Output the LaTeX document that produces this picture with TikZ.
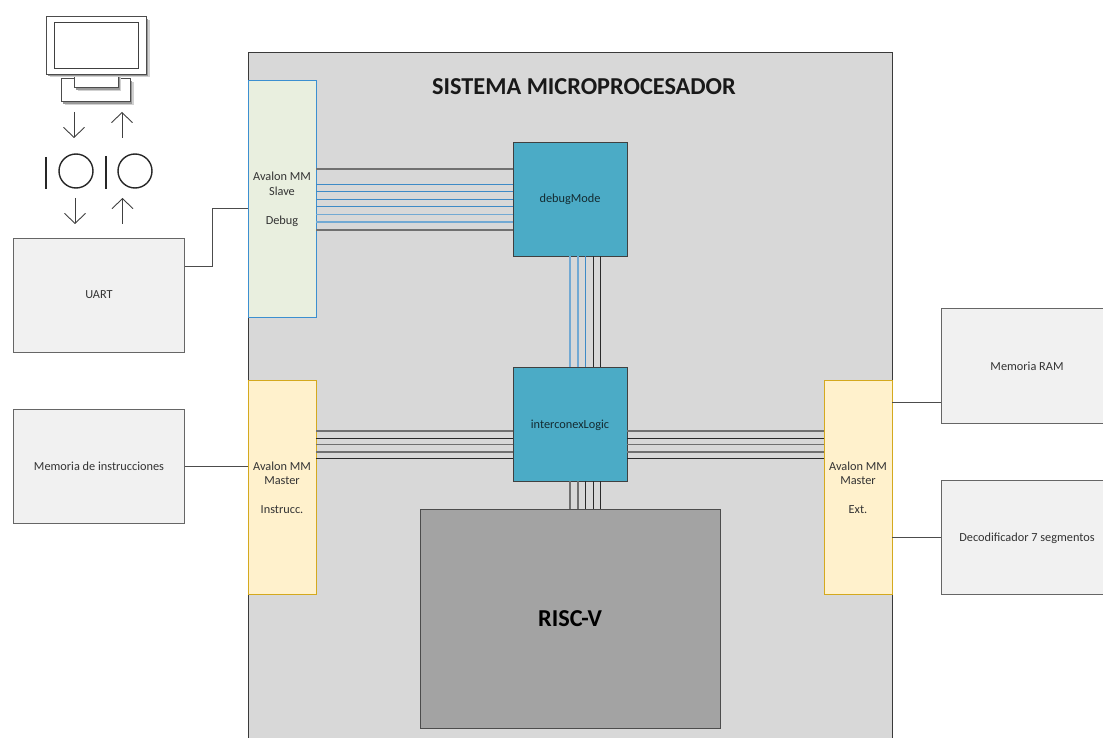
\documentclass[tikz,border=0pt]{standalone}
\usepackage{fontspec}
\setmainfont{Carlito}
\usetikzlibrary{arrows.meta,calc}
\definecolor{sysgray}{HTML}{D8D8D8}
\definecolor{sysedge}{HTML}{3A3A3A}
\definecolor{slavefill}{HTML}{E9EFDF}
\definecolor{slaveedge}{HTML}{3C8FD0}
\definecolor{masterfill}{HTML}{FFF1CC}
\definecolor{masteredge}{HTML}{D4A91E}
\definecolor{tealfill}{HTML}{4BABC6}
\definecolor{riscfill}{HTML}{A3A3A3}
\definecolor{extfill}{HTML}{F1F1F1}
\definecolor{busblue}{HTML}{3E8AC6}
\definecolor{buslight}{HTML}{72A9D3}
\definecolor{busgray}{HTML}{707070}
\definecolor{busdark}{HTML}{2A2A2A}
\newcommand{\lift}{\rule{0pt}{10.4pt}}
\tikzset{
  box/.style={draw,rectangle,inner sep=0pt,align=center,line width=0.9pt,anchor=center},
  sysbox/.style={box,fill=sysgray,draw=sysedge},
  slavebox/.style={box,fill=slavefill,draw=slaveedge,text=black!80,font=\fontsize{12.3}{14.5}\selectfont},
  masterbox/.style={box,fill=masterfill,draw=masteredge,text=black!80,font=\fontsize{12.3}{14.5}\selectfont},
  logicbox/.style={box,fill=tealfill,draw=black!75,text=black!75!tealfill,font=\fontsize{12.3}{14.5}\selectfont},
  riscbox/.style={box,fill=riscfill,draw=black!70,font=\bfseries\fontsize{24.3}{28}\selectfont},
  extbox/.style={box,fill=extfill,draw=black!60,text=black!80,font=\fontsize{12.3}{14.5}\selectfont},
  screenpart/.style={box,fill=white,draw=black!70,line width=1pt,
    preaction={draw=none,fill=black!18,transform canvas={shift={(3pt,-3pt)}}},
    preaction={draw=none,fill=black!40,transform canvas={shift={(1.8pt,-1.8pt)}}}},
  titletext/.style={font=\bfseries\fontsize{24.3}{28}\selectfont,text=black!90,inner sep=0pt},
  bar/.style={line width=1.8pt,draw=black!85},
  ring/.style={circle,draw=black!85,line width=1.4pt,minimum size=34pt,inner sep=0pt},
  io/.style={-{Straight Barb[length=10pt,width=21pt]},line width=0.9pt,draw=black!75},
  wire/.style={line width=1pt,draw=black!70},
  busB/.style={line width=0.9pt,draw=busblue},
  busL/.style={line width=1.1pt,draw=buslight},
  busG/.style={line width=1.2pt,draw=busgray},
  busD/.style={line width=0.9pt,draw=busdark},
}
\begin{document}
\begin{tikzpicture}[x=1pt,y=-1pt]
\useasboundingbox (0,0) rectangle (1103,738);
% system
\node[sysbox,minimum width=644pt,minimum height=700pt] (sys) at (570,402) {};
\node[titletext] (title) at (584,87) {SISTEMA MICROPROCESADOR};
% interface blocks
\node[slavebox,minimum width=68pt,minimum height=237pt] (slave) at (282,198.5) {\lift Avalon MM\\Slave\\[14.5pt]Debug};
\node[masterbox,minimum width=68pt,minimum height=214pt] (mleft) at (282,487) {\lift Avalon MM\\Master\\[14.5pt]Instrucc.};
\node[masterbox,minimum width=68pt,minimum height=214pt] (mright) at (858,487) {\lift Avalon MM\\Master\\[14.5pt]Ext.};
% logic
\node[logicbox,minimum width=114pt,minimum height=114pt] (debug) at (570,199) {debugMode};
\node[logicbox,minimum width=114pt,minimum height=114pt] (inter) at (570,424) {\lift interconexLogic};
\node[riscbox,minimum width=300pt,minimum height=219pt] (risc) at (570,618.5) {RISC-V};
% external
\node[extbox,minimum width=171pt,minimum height=114pt] (uart) at (99,295) {UART};
\node[extbox,minimum width=171pt,minimum height=114pt] (imem) at (99,466) {Memoria de instrucciones};
\node[extbox,minimum width=172pt,minimum height=115pt] (ram) at (1027,365.5) {\lift Memoria RAM};
\node[extbox,minimum width=172pt,minimum height=114pt] (deco) at (1027,537) {\lift Decodificador 7 segmentos};
% buses debug - slave
\foreach \yy/\st in {169/busG,184/busB,191.3/busB,199.3/busB,206.5/busB,214.7/busL,222/busL,230/busG}
  \draw[\st] (slave.east |- 0,\yy) -- (debug.west |- 0,\yy);
% buses debug - inter
\foreach \xx/\st in {570/busL,578/busL,585.5/busB,593/busD,600/busD}
  \draw[\st] (debug.south -| \xx,0) -- (inter.north -| \xx,0);
% buses inter - risc
\foreach \xx/\st in {570/busG,578/busG,585.5/busD,593/busD,600/busD}
  \draw[\st] (inter.south -| \xx,0) -- (risc.north -| \xx,0);
% buses masters - inter
\foreach \yy/\st in {431/busG,438.5/busD,444.7/busG,452/busG,458.5/busD}{
  \draw[\st] (mleft.east |- 0,\yy) -- (inter.west |- 0,\yy);
  \draw[\st] (inter.east |- 0,\yy) -- (mright.west |- 0,\yy);
}
% external wires
\coordinate (bend) at (212.5,209);
\draw[wire] (uart.east |- 0,266) -| (bend) -- (slave.west |- bend);
\draw[wire] (imem.east) -- (mleft.west |- imem.east);
\draw[wire] (mright.east |- 0,402) -- (ram.west |- 0,402);
\draw[wire] (mright.east |- deco.west) -- (deco.west);
% monitor
\node[screenpart,minimum width=69pt,minimum height=23pt] (base) at (96,90.5) {};
\node[screenpart,minimum width=43.5pt,minimum height=14pt] (stand) at (96.3,81) {};
\node[screenpart,minimum width=100pt,minimum height=57.5pt] (monitor) at (96.5,45.5) {};
\node[box,fill=white,draw=black!75,minimum width=84.5pt,minimum height=46pt] (screen) at (96.5,45.5) {};
% serial symbols
\node[ring] (rx) at (76,171) {};
\node[ring] (tx) at (135,171) {};
\coordinate (b1a) at (46,157); \coordinate (b1b) at (46,189);
\coordinate (b2a) at (105.8,156); \coordinate (b2b) at (105.8,189);
\draw[bar] (b1a) -- (b1b);
\draw[bar] (b2a) -- (b2b);
% arrows
\coordinate (a1) at (74,112); \coordinate (a2) at (74,138);
\coordinate (a3) at (122,138); \coordinate (a4) at (122,112);
\coordinate (a5) at (75,198); \coordinate (a6) at (75,224);
\coordinate (a7) at (122.5,224); \coordinate (a8) at (122.5,198);
\draw[io] (a1) -- (a2);
\draw[io] (a3) -- (a4);
\draw[io] (a5) -- (a6);
\draw[io] (a7) -- (a8);
\end{tikzpicture}
\end{document}
